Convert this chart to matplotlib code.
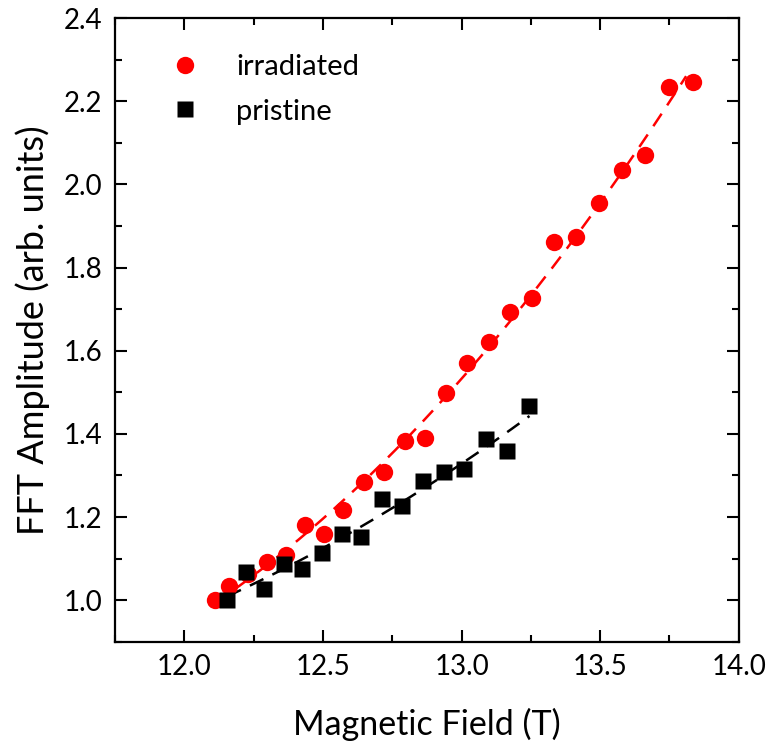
import numpy as np
import matplotlib
matplotlib.use('Agg')
import matplotlib.pyplot as plt
from matplotlib.ticker import MultipleLocator

# values
irr_field = [12.111, 12.161, 12.228, 12.298, 12.366, 12.436, 12.505, 12.574,
             12.649, 12.719, 12.795, 12.867, 12.944, 13.018, 13.098, 13.174,
             13.253, 13.333, 13.413, 13.497, 13.578, 13.662, 13.747, 13.834]
irr_amp = [1.000, 1.034, 1.064, 1.092, 1.108, 1.180, 1.158, 1.216,
           1.284, 1.308, 1.382, 1.390, 1.499, 1.570, 1.622, 1.694,
           1.728, 1.862, 1.874, 1.955, 2.035, 2.071, 2.234, 2.246]

pri_field = [12.155, 12.223, 12.288, 12.358, 12.426, 12.496, 12.569, 12.638,
             12.713, 12.785, 12.861, 12.938, 13.010, 13.089, 13.165, 13.243]
pri_amp = [1.000, 1.068, 1.026, 1.088, 1.076, 1.114, 1.160, 1.152,
           1.244, 1.226, 1.286, 1.308, 1.316, 1.388, 1.358, 1.466]

plt.rcParams['font.family'] = ['Lato', 'DejaVu Sans']

fig = plt.figure(figsize=(7.72, 7.55), dpi=100)
ax = fig.add_axes([0.149, 0.150, 0.808, 0.826])

# quadratic fits drawn as dashed lines
def fitline(x, y, x0, x1):
    p = np.polyfit(x, y, 2)
    xx = np.linspace(x0, x1, 200)
    return xx, np.polyval(p, xx)

xx, yy = fitline(irr_field, irr_amp, 12.115, 13.81)
ax.plot(xx, yy, color='red', ls=(0, (6, 4)), lw=1.8, zorder=1)
xx, yy = fitline(pri_field, pri_amp, 12.155, 13.245)
ax.plot(xx, yy, color='black', ls=(0, (6, 4)), lw=1.8, zorder=1)

ax.plot(irr_field, irr_amp, 'o', color='red', ms=12.5, mec='none', label='irradiated', zorder=3)
ax.plot(pri_field, pri_amp, 's', color='black', ms=11, mec='none', label='pristine', zorder=3)

ax.set_xlim(11.75, 14.0)
ax.set_ylim(0.9, 2.4)
ax.xaxis.set_minor_locator(MultipleLocator(0.25))
ax.yaxis.set_minor_locator(MultipleLocator(0.1))
ax.set_xticks([12.0, 12.5, 13.0, 13.5, 14.0])
ax.set_yticks([1.0, 1.2, 1.4, 1.6, 1.8, 2.0, 2.2, 2.4])
ax.set_xticklabels(['12.0', '12.5', '13.0', '13.5', '14.0'])
ax.set_yticklabels(['1.0', '1.2', '1.4', '1.6', '1.8', '2.0', '2.2', '2.4'])

ax.tick_params(which='both', direction='in', top=True, right=True, width=1.5,
               labelsize=20, pad=9)
ax.tick_params(which='major', length=8.5)
ax.tick_params(which='minor', length=5)
for s in ax.spines.values():
    s.set_linewidth(1.6)

ax.set_xlabel('Magnetic Field (T)', fontsize=24.5, labelpad=20)
ax.set_ylabel('FFT Amplitude (arb. units)', fontsize=26, labelpad=10)

ax.legend(loc='upper left', bbox_to_anchor=(0.035, 0.985), frameon=False,
          fontsize=21, handletextpad=1.0, labelspacing=0.65, handlelength=1.5)

fig.savefig('out.png', dpi=100)
